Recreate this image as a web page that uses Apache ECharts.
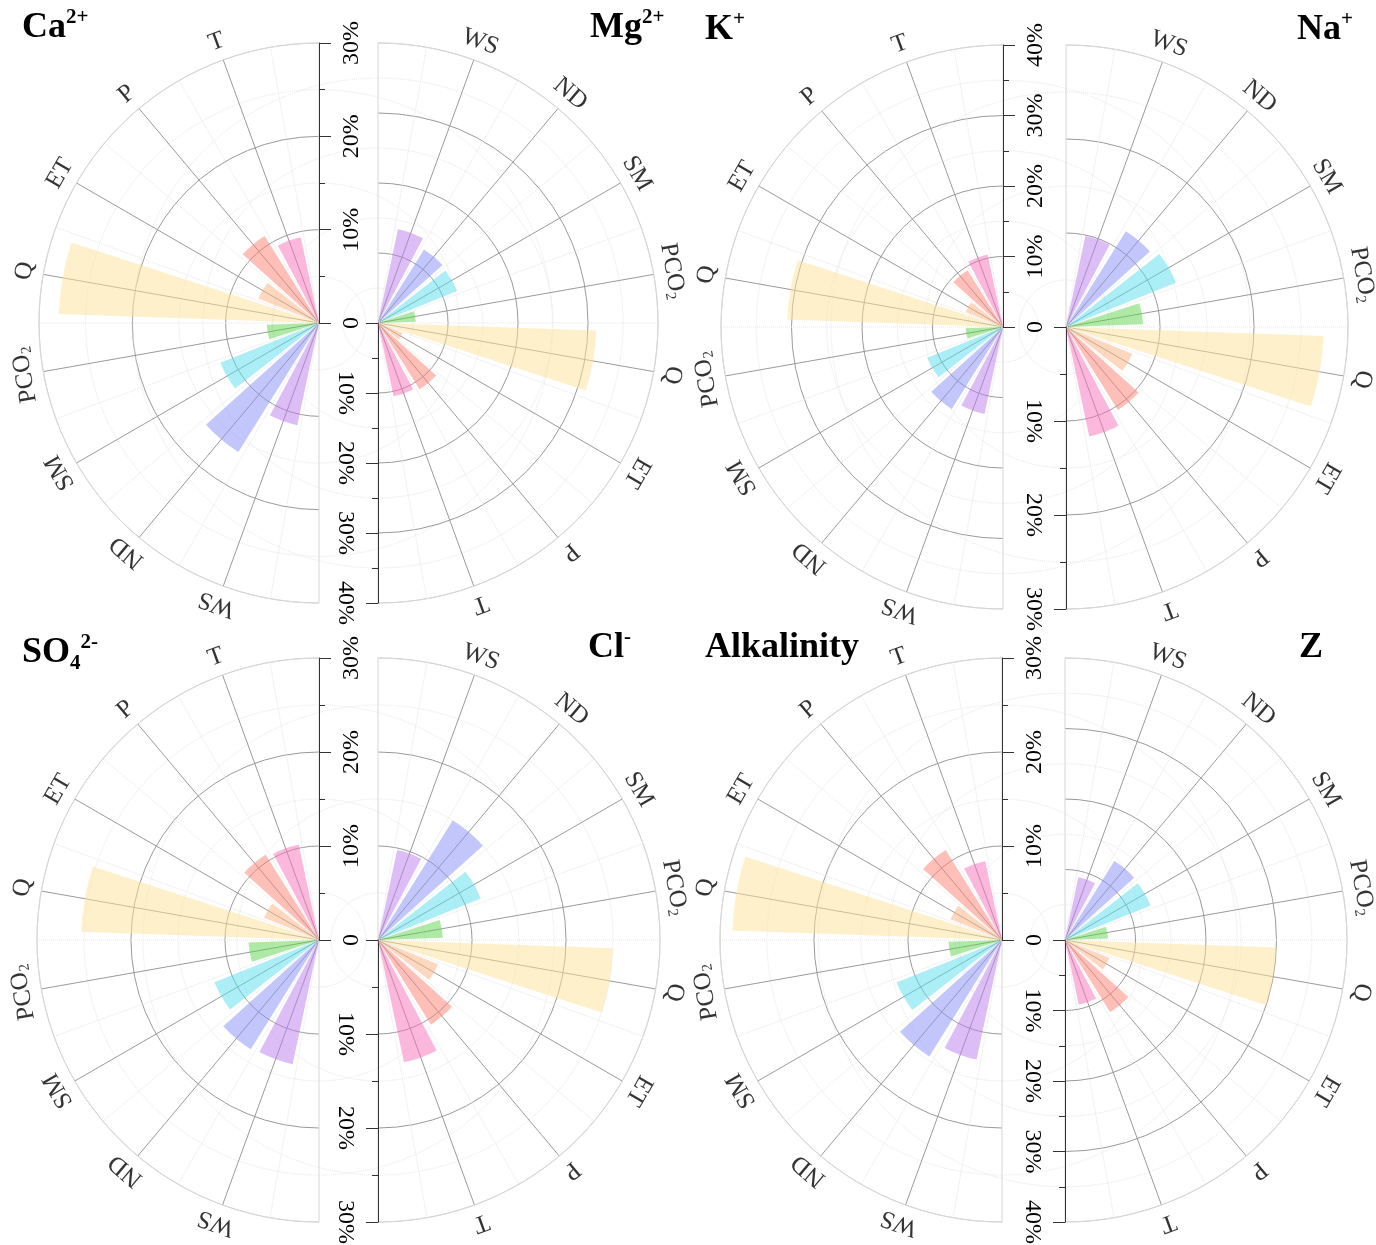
<!DOCTYPE html>
<html>
<head>
<meta charset="utf-8">
<title>Half rose charts of driving factors</title>
<script src="https://cdn.jsdelivr.net/npm/echarts@6/dist/echarts.min.js"></script>
<style>
  html, body { margin: 0; padding: 0; background: #fff; }
  #chart { width: 1376px; height: 1245px; }
</style>
</head>
<body>
<div id="chart"></div>
<script>
// factors, in the order they run round every half rose
const factors = ['T', 'P', 'ET', 'Q', 'PCO2', 'SM', 'ND', 'WS'];
const factorLabels = ['T', 'P', 'ET', 'Q', '{a|PCO}{s|2}', 'SM', 'ND', 'WS'];

// relative contribution of each factor (%)
const caValues  = [9.4, 11.0, 7.0, 27.9, 5.6, 11.4, 16.3, 11.2];
const mgValues  = [10.7, 11.2, 3.8, 31.2, 5.4, 12.2, 12.4, 13.7];
const kValues   = [10.5, 9.5, 5.7, 30.6, 5.3, 11.6, 13.7, 12.6];
const naValues  = [11.9, 10.4, 7.6, 27.4, 8.2, 12.6, 12.0, 9.9];
const so4Values = [10.4, 10.7, 6.3, 25.3, 7.5, 12.0, 13.7, 13.5];
const clValues  = [13.3, 10.6, 6.9, 25.0, 6.9, 11.8, 15.0, 9.8];
const alkValues = [8.6, 11.3, 5.9, 28.7, 5.7, 12.1, 14.6, 13.0];
const zValues   = [9.4, 12.1, 6.8, 30.0, 6.1, 13.1, 13.2, 9.1];

// radial axis ranges (%)
const caMax = 30, mgMax = 40, kMax = 40, naMax = 30;
const so4Max = 30, clMax = 30, alkMax = 30, zMax = 40;

const barColors = [
  'rgba(249,113,185,0.5)', 'rgba(251,127,113,0.5)', 'rgba(251,175,125,0.5)', 'rgba(251,225,151,0.5)',
  'rgba(93,211,75,0.5)', 'rgba(89,221,237,0.5)', 'rgba(133,141,247,0.5)', 'rgba(187,123,237,0.5)'
];

const serif = "'Times New Roman', 'Liberation Serif', serif";
const darkLine = '#9a9a9a';
const lightLine = '#d6d6d6';

const polar = [], angleAxis = [], radiusAxis = [];
const grid = [], xAxis = [], yAxis = [], series = [];

// one half rose: left halves start at the top, right halves at the bottom,
// both turning counter-clockwise
function addHalf(values, max, cx, cy, R, side) {
  const start = side === 'left' ? 90 : -90;

  // grid lines
  const gp = polar.length;
  polar.push({ center: [cx, cy], radius: [0, R] });
  const spokeColors = [];
  for (let i = 0; i <= 9; i++) spokeColors.push(i === 0 || i === 9 ? lightLine : darkLine);
  const circleColors = [];
  for (let v = 0; v <= max; v += 10) circleColors.push(v === max ? lightLine : darkLine);
  angleAxis.push({
    polarIndex: gp, type: 'value', min: 0, max: 180, interval: 20,
    startAngle: start, endAngle: start + 180, clockwise: false,
    axisLine: { show: true, lineStyle: { color: lightLine, width: 1 } },
    axisTick: { show: false }, axisLabel: { show: false },
    splitLine: { show: true, lineStyle: { color: spokeColors, width: 1 } },
    minorTick: { show: false, splitNumber: 2 },
    minorSplitLine: { show: true, lineStyle: { color: '#e6e6e6', width: 1, type: 'dotted' } }
  });
  radiusAxis.push({
    polarIndex: gp, type: 'value', min: 0, max: max, interval: 10,
    axisLine: { show: false }, axisTick: { show: false }, axisLabel: { show: false },
    splitLine: { show: true, lineStyle: { color: circleColors, width: 1 } },
    minorTick: { show: false, splitNumber: 2 },
    minorSplitLine: { show: true, lineStyle: { color: '#e6e6e6', width: 1, type: 'dotted' } }
  });

  // bars
  const bp = polar.length;
  polar.push({ center: [cx, cy], radius: [0, R] });
  angleAxis.push({
    polarIndex: bp, type: 'category', data: factors, boundaryGap: true,
    startAngle: start + 10, endAngle: start + 170, clockwise: false,
    axisLine: { show: false }, axisTick: { show: false },
    axisLabel: { show: false }, splitLine: { show: false }
  });
  radiusAxis.push({
    polarIndex: bp, type: 'value', min: 0, max: max,
    axisLine: { show: false }, axisTick: { show: false },
    axisLabel: { show: false }, splitLine: { show: false }
  });
  series.push({
    type: 'bar', coordinateSystem: 'polar', polarIndex: bp,
    barWidth: '80%', silent: true, z: 3,
    data: values.map((v, i) => ({ value: v, itemStyle: { color: barColors[i] } }))
  });

  // factor names just outside the rim, turned along it
  const labelR = max * (R + 19) / R;
  series.push({
    type: 'scatter', coordinateSystem: 'polar', polarIndex: bp,
    clip: false, silent: true, symbolSize: 1, z: 4,
    itemStyle: { color: 'rgba(0,0,0,0)' },
    label: {
      show: true, position: 'inside', color: '#000',
      fontFamily: serif, fontSize: 25,
      formatter: p => factorLabels[p.dataIndex],
      rich: {
        a: { fontFamily: serif, fontSize: 25, color: '#000', lineHeight: 28 },
        s: { fontFamily: serif, fontSize: 15, color: '#000', verticalAlign: 'bottom', lineHeight: 22 }
      }
    },
    data: factors.map((f, i) => ({
      value: [labelR, i],
      label: { rotate: start + 20 * (i + 1) - 90 }
    }))
  });

  // radial scale on the straight edge, ticks and labels turned into the gap
  const gi = grid.length;
  const isLeft = side === 'left';
  grid.push({ left: cx, width: 20, top: isLeft ? cy - R : cy, height: R, outerBoundsMode: 'none' });
  xAxis.push({ gridIndex: gi, type: 'value', show: false });
  yAxis.push({
    gridIndex: gi, type: 'value', min: 0, max: max, interval: 10,
    position: 'left', inverse: !isLeft,
    axisLine: { show: true, lineStyle: { color: '#333', width: 1 } },
    axisTick: { show: true, inside: isLeft, length: 12, lineStyle: { color: '#333', width: 1 } },
    minorTick: { show: true, splitNumber: 2, length: 6, lineStyle: { color: '#333', width: 1 } },
    splitLine: { show: false },
    axisLabel: {
      inside: isLeft, rotate: isLeft ? 90 : -90, margin: 21,
      align: 'center', alignMinLabel: 'center', alignMaxLabel: 'center',
      fontFamily: serif, fontSize: 24, color: '#000',
      formatter: v => v === 0 ? (isLeft ? '0' : '') : v + '%'
    }
  });
}

addHalf(caValues, caMax, 319, 323, 280, 'left');
addHalf(mgValues, mgMax, 378, 323, 280, 'right');
addHalf(kValues, kMax, 1003, 327, 282, 'left');
addHalf(naValues, naMax, 1066, 327, 282, 'right');
addHalf(so4Values, so4Max, 319, 940, 282, 'left');
addHalf(clValues, clMax, 378, 940, 282, 'right');
addHalf(alkValues, alkMax, 1002, 940, 282, 'left');
addHalf(zValues, zMax, 1065, 940, 282, 'right');

const titleRich = {
  m: { fontFamily: serif, fontSize: 36, fontWeight: 'bold', color: '#000', lineHeight: 42 },
  sup: { fontFamily: serif, fontSize: 21, color: '#000', verticalAlign: 'top', lineHeight: 22 },
  sub: { fontFamily: serif, fontSize: 21, color: '#000', verticalAlign: 'bottom', lineHeight: 22 }
};
const mkTitle = (text, left, top) => ({
  text: text, left: left, top: top, padding: 0,
  textStyle: { rich: titleRich }
});

const option = {
  backgroundColor: '#fff',
  animation: false,
  title: [
    mkTitle('{m|Ca}{sup|2+}', 22, 7),
    mkTitle('{m|Mg}{sup|2+}', 590, 7),
    mkTitle('{m|K}{sup|+}', 705, 9),
    mkTitle('{m|Na}{sup|+}', 1297, 9),
    mkTitle('{m|SO}{sub|4}{sup|2-}', 22, 632),
    mkTitle('{m|Cl}{sup|-}', 588, 627),
    mkTitle('{m|Alkalinity}', 705, 627),
    mkTitle('{m|Z}', 1299, 627)
  ],
  polar: polar,
  angleAxis: angleAxis,
  radiusAxis: radiusAxis,
  grid: grid,
  xAxis: xAxis,
  yAxis: yAxis,
  series: series
};

const chart = echarts.init(document.getElementById('chart'));
chart.setOption(option);
window.addEventListener('resize', () => chart.resize());
</script>
</body>
</html>
